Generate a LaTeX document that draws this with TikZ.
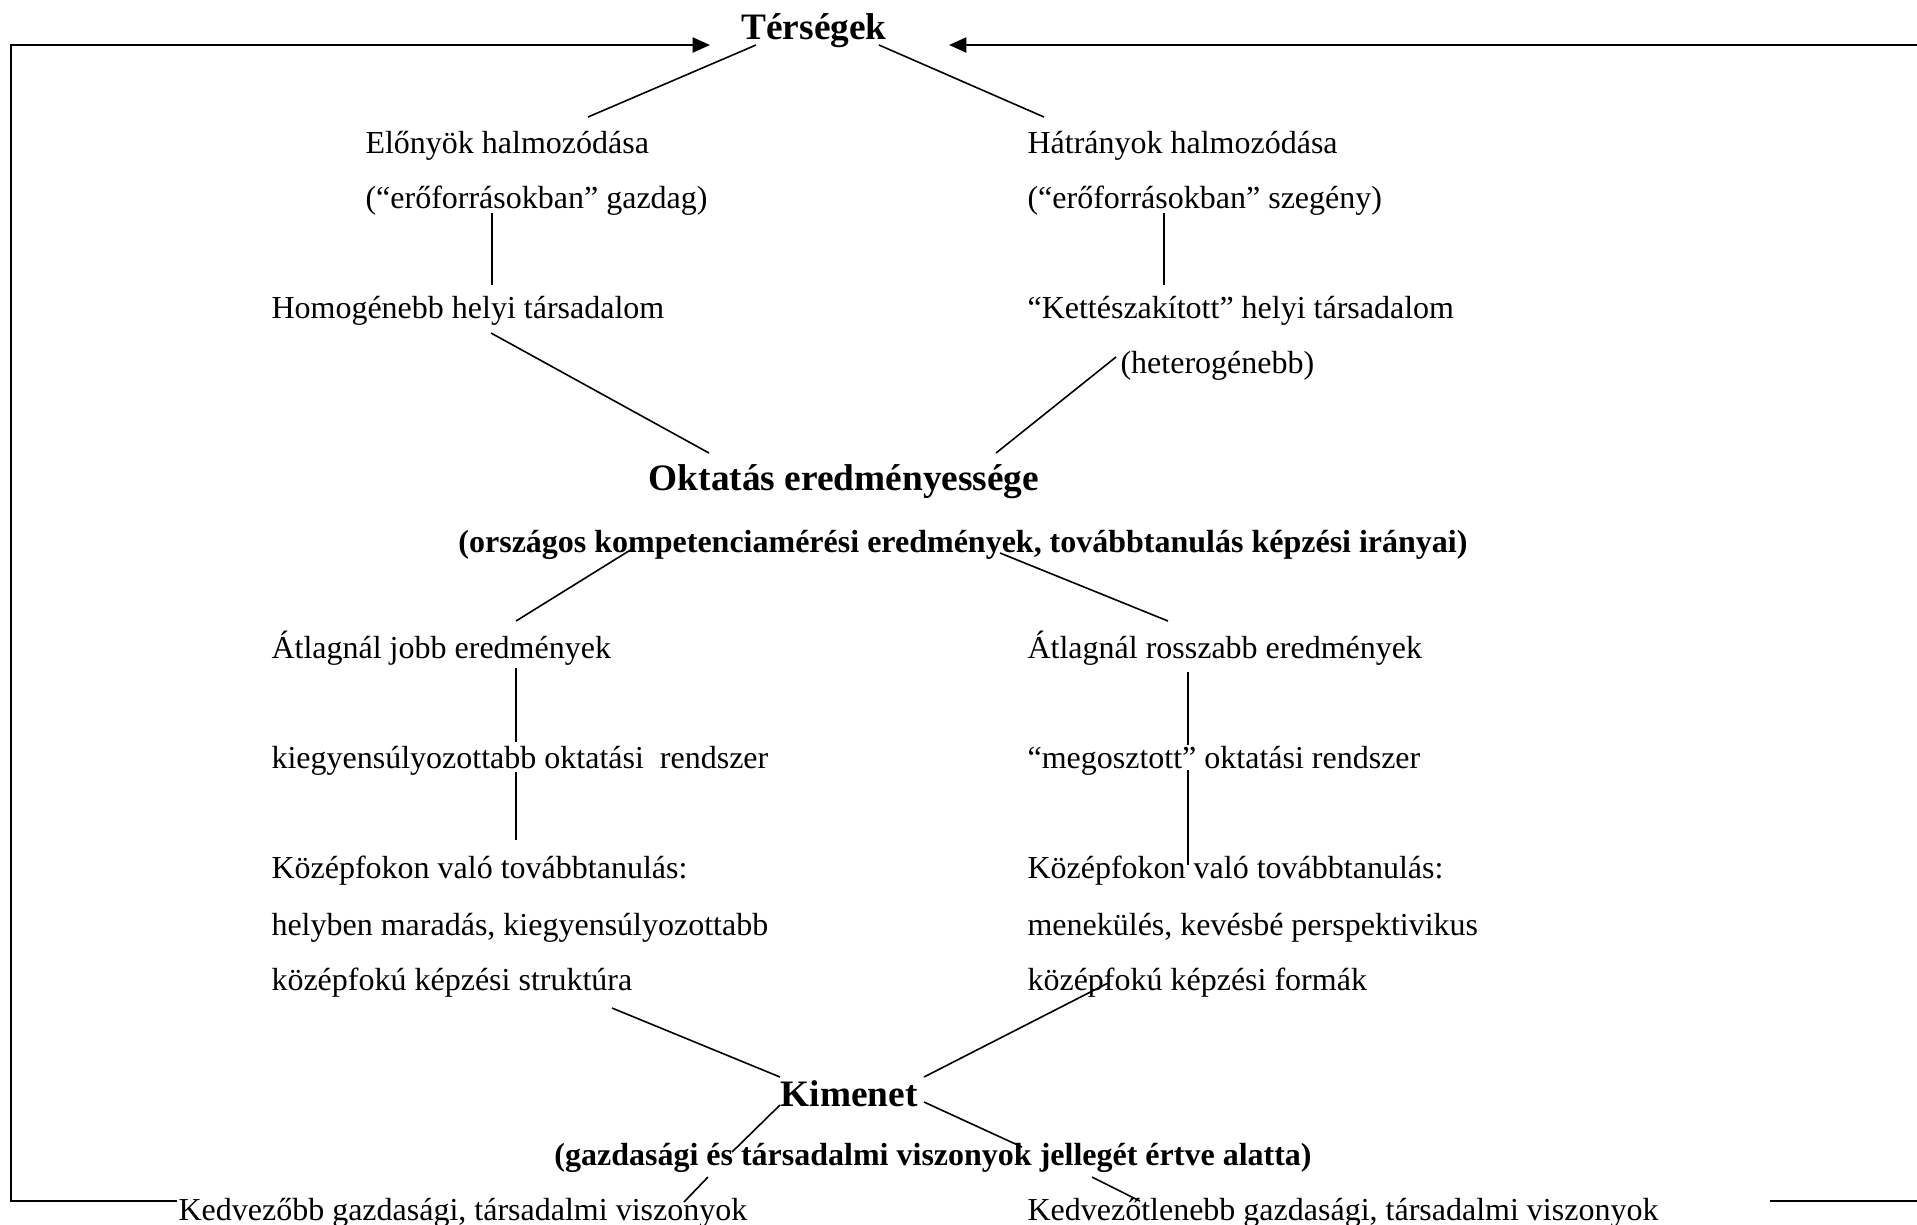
\documentclass[tikz,border=0pt]{standalone}
\usepackage{fontspec}
\setmainfont{Liberation Serif}
\usetikzlibrary{arrows.meta}
\tikzset{
  txt/.style={anchor=base west,inner sep=0pt,font=\fontsize{12pt}{14pt}\selectfont},
  head/.style={anchor=base,inner sep=0pt,font=\fontsize{14pt}{16pt}\selectfont\bfseries},
  sub/.style={anchor=base,inner sep=0pt,font=\fontsize{12pt}{14pt}\selectfont\bfseries},
  conn/.style={line width=0.6pt},
  frame/.style={line width=0.9pt},
  arr/.style={frame,-{Triangle[length=6.5pt,width=5.6pt]}}
}
\begin{document}
\begin{tikzpicture}[x=0.375pt,y=-0.375pt]
\useasboundingbox (0,0) rectangle (1917,1224);
% texts
\node[head] (terseg) at (814,39) {Térségek};
\node[txt] (elony) at (365,153) {Előnyök halmozódása};
\node[txt] (gazdag) at (365,208) {(“erőforrásokban” gazdag)};
\node[txt] (homog) at (271,318) {Homogénebb helyi társadalom};
\node[txt] (hatrany) at (1027,153) {Hátrányok halmozódása};
\node[txt] (szegeny) at (1027,208) {(“erőforrásokban” szegény)};
\node[txt] (ketteszak) at (1027,318) {“Kettészakított” helyi társadalom};
\node[txt] (hetero) at (1120,373) {(heterogénebb)};
\node[head] (oktatas) at (844,490) {Oktatás eredményessége};
\node[sub] (orszagos) at (963,552) {(országos kompetenciamérési eredmények, továbbtanulás képzési irányai)};
\node[txt] (jobb) at (271,658) {Átlagnál jobb eredmények};
\node[txt] (rosszabb) at (1027,658) {Átlagnál rosszabb eredmények};
\node[txt] (kiegy) at (271,768) {kiegyensúlyozottabb oktatási\ \ rendszer};
\node[txt] (megoszt) at (1027,768) {“megosztott” oktatási rendszer};
\node[txt] (kozepL1) at (271,878) {Középfokon való továbbtanulás:};
\node[txt] (kozepL2) at (271,935) {helyben maradás, kiegyensúlyozottabb};
\node[txt] (kozepL3) at (271,990) {középfokú képzési struktúra};
\node[txt] (kozepR1) at (1027,878) {Középfokon való továbbtanulás:};
\node[txt] (kozepR2) at (1027,935) {menekülés, kevésbé perspektivikus};
\node[txt] (kozepR3) at (1027,990) {középfokú képzési formák};
\node[head] (kimenet) at (849,1106) {Kimenet};
\node[sub] (gazdtars) at (933,1165) {(gazdasági és társadalmi viszonyok jellegét értve alatta)};
\node[txt] (kedvezobb) at (178,1220) {Kedvezőbb gazdasági, társadalmi viszonyok};
\node[txt] (kedvezotlen) at (1027,1220) {Kedvezőtlenebb gazdasági, társadalmi viszonyok};
% frame coordinates
\coordinate (fL0) at (177,1201);
\coordinate (fL1) at (11,1201);
\coordinate (fL2) at (11,45);
\coordinate (fLt) at (710,45);
\coordinate (fR0) at (1917,45);
\coordinate (fRt) at (949,45);
\coordinate (fB0) at (1770,1201);
\coordinate (fB1) at (1917,1201);
\draw[arr] (fL0) -- (fL1) -- (fL2) -- (fLt);
\draw[arr] (fR0) -- (fRt);
\draw[frame] (fB0) -- (fB1);
% connector end points
\coordinate (a1) at (756,45);   \coordinate (a2) at (588,117);
\coordinate (b1) at (879,45);   \coordinate (b2) at (1044,117);
\coordinate (c1) at (492,213);  \coordinate (c2) at (492,285);
\coordinate (d1) at (1164,213); \coordinate (d2) at (1164,285);
\coordinate (e1) at (491,333);  \coordinate (e2) at (709,453);
\coordinate (f1) at (1116,357); \coordinate (f2) at (996,453);
\coordinate (g1) at (632,549);  \coordinate (g2) at (516,621);
\coordinate (h1) at (1000,553); \coordinate (h2) at (1168,621);
\coordinate (i1) at (516,668);  \coordinate (i2) at (516,742);
\coordinate (i3) at (516,772);  \coordinate (i4) at (516,840);
\coordinate (j1) at (1188,672); \coordinate (j2) at (1188,745);
\coordinate (j3) at (1188,770); \coordinate (j4) at (1188,865);
\coordinate (k1) at (612,1008); \coordinate (k2) at (780,1077);
\coordinate (l1) at (1108,983); \coordinate (l2) at (924,1077);
\coordinate (m1) at (780,1105); \coordinate (m2) at (732,1152);
\coordinate (n1) at (708,1177); \coordinate (n2) at (684,1202);
\coordinate (o1) at (924,1102); \coordinate (o2) at (1022,1147);
\coordinate (p1) at (1092,1177); \coordinate (p2) at (1140,1201);
\foreach \s/\t in {a1/a2,b1/b2,c1/c2,d1/d2,e1/e2,f1/f2,g1/g2,h1/h2,i1/i2,i3/i4,j1/j2,j3/j4,k1/k2,l1/l2,m1/m2,n1/n2,o1/o2,p1/p2}
  \draw[conn] (\s) -- (\t);
\end{tikzpicture}
\end{document}
